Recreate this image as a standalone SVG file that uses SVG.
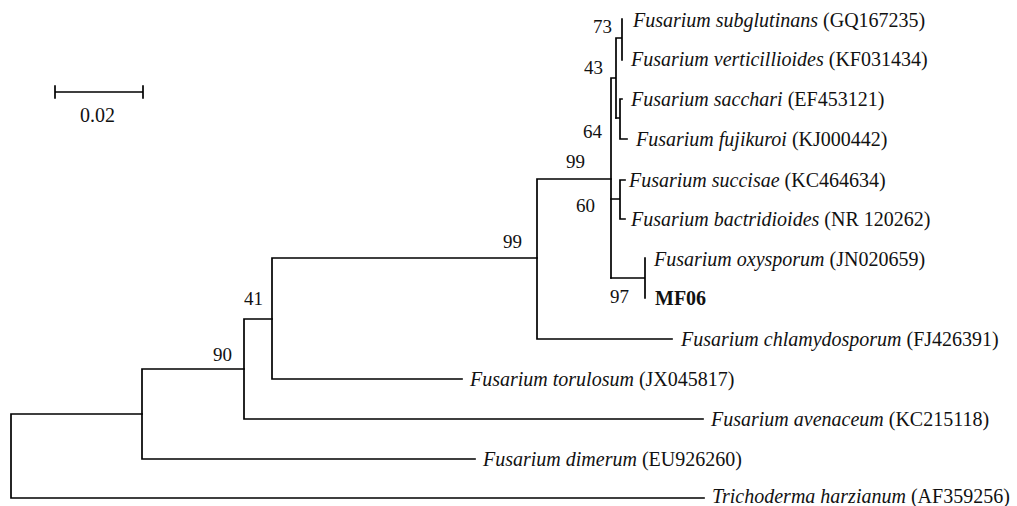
<svg xmlns="http://www.w3.org/2000/svg" width="1017" height="506" viewBox="0 0 1017 506">
<style>
  .br { fill: none; stroke: #000; stroke-width: 1.7; stroke-linecap: square; }
  text { font-family: 'Liberation Serif', 'Times New Roman', 'DejaVu Serif', serif; fill: #111; }
  .lbl { font-size: 20px; }
  .sp { font-style: italic; }
  .bs { font-size: 19px; }
</style>
<rect width="1017" height="506" fill="#fff"/>
<g id="connectors">
  <path class="br" d="M11 414 V498 M11 498 H704 M11 414 H142"/>
  <path class="br" d="M142 369 V459 M142 459 H475 M142 369 H244"/>
  <path class="br" d="M244 319 V419 M244 419 H703 M244 319 H272"/>
  <path class="br" d="M272 258 V379 M272 379 H462 M272 258 H537"/>
  <path class="br" d="M537 179 V339 M537 339 H672 M537 179 H611"/>
  <path class="br" d="M611 78 V278 M611 78 H616 M616 38 V118 M616 38 H622 M622 19 V60"/>
  <path class="br" d="M616 118 H620 M620 99 V139 M620 99 H622 M620 139 H627"/>
  <path class="br" d="M611 199 H620 M620 180 V219 M620 180 H625 M620 219 H625"/>
  <path class="br" d="M611 278 H645 M645 258 V298"/>
</g>
<g id="scale-bar">
  <path class="br" d="M55 92 H143 M55 86 V98 M143 86 V98"/>
  <text class="lbl" x="80" y="122">0.02</text>
</g>
<g id="bootstrap">
  <text class="bs" x="593" y="33">73</text>
  <text class="bs" x="584" y="74">43</text>
  <text class="bs" x="583" y="138">64</text>
  <text class="bs" x="566" y="168">99</text>
  <text class="bs" x="576" y="212">60</text>
  <text class="bs" x="503" y="248">99</text>
  <text class="bs" x="610" y="303">97</text>
  <text class="bs" x="244" y="305">41</text>
  <text class="bs" x="213" y="361">90</text>
</g>
<g id="taxon-subglutinans"><text class="lbl" x="633" y="27"><tspan class="sp">Fusarium subglutinans</tspan> (GQ167235)</text></g>
<g id="taxon-verticillioides"><text class="lbl" x="631" y="66"><tspan class="sp">Fusarium verticillioides</tspan> (KF031434)</text></g>
<g id="taxon-sacchari"><text class="lbl" x="631" y="106"><tspan class="sp">Fusarium sacchari</tspan> (EF453121)</text></g>
<g id="taxon-fujikuroi"><text class="lbl" x="636" y="146"><tspan class="sp">Fusarium fujikuroi</tspan> (KJ000442)</text></g>
<g id="taxon-succisae"><text class="lbl" x="629" y="187"><tspan class="sp">Fusarium succisae</tspan> (KC464634)</text></g>
<g id="taxon-bactridioides"><text class="lbl" x="631" y="226"><tspan class="sp">Fusarium bactridioides</tspan> (NR 120262)</text></g>
<g id="taxon-oxysporum"><text class="lbl" x="654" y="266"><tspan class="sp">Fusarium oxysporum</tspan> (JN020659)</text></g>
<g id="taxon-MF06"><text class="lbl" x="655" y="305" font-weight="bold">MF06</text></g>
<g id="taxon-chlamydosporum"><text class="lbl" x="681" y="346"><tspan class="sp">Fusarium chlamydosporum</tspan> (FJ426391)</text></g>
<g id="taxon-torulosum"><text class="lbl" x="470" y="386"><tspan class="sp">Fusarium torulosum</tspan> (JX045817)</text></g>
<g id="taxon-avenaceum"><text class="lbl" x="711" y="426"><tspan class="sp">Fusarium avenaceum</tspan> (KC215118)</text></g>
<g id="taxon-dimerum"><text class="lbl" x="483" y="466"><tspan class="sp">Fusarium dimerum</tspan> (EU926260)</text></g>
<g id="taxon-trichoderma"><text class="lbl" x="712" y="503"><tspan class="sp">Trichoderma harzianum</tspan> (AF359256)</text></g>
</svg>
